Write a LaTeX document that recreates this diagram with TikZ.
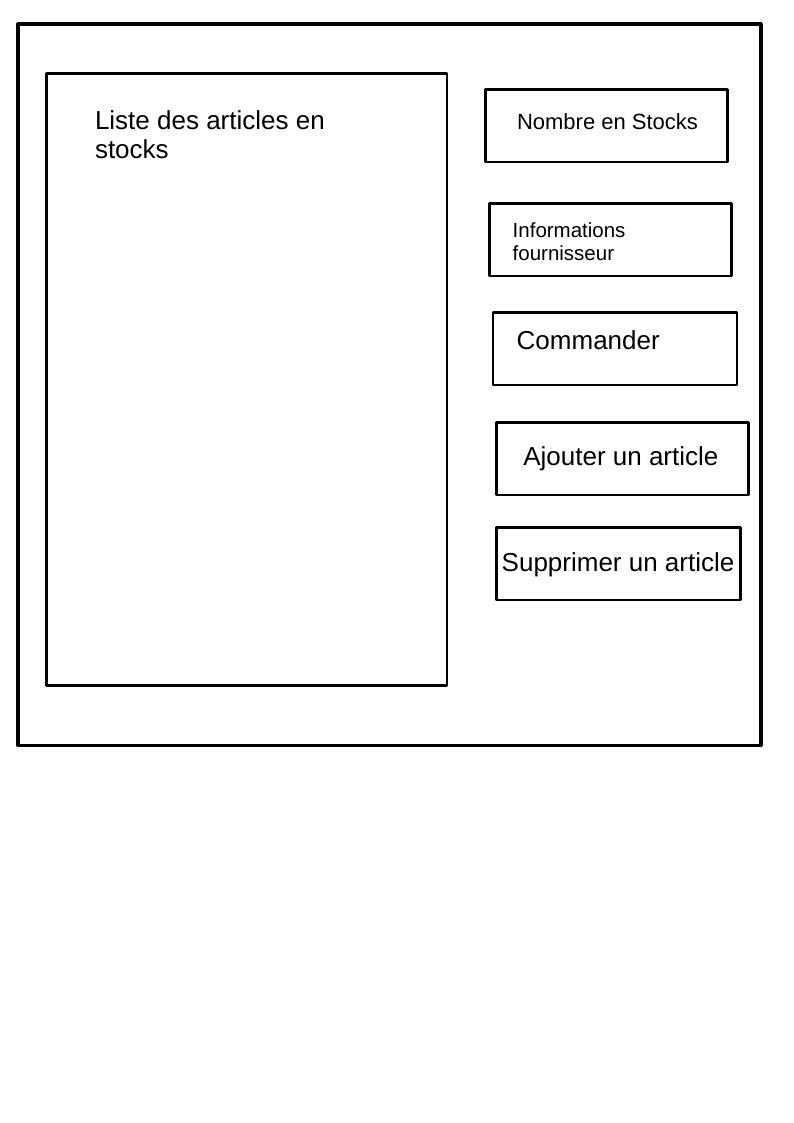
\documentclass[tikz,border=0pt]{standalone}
\usepackage{fontspec}
\setmainfont{Liberation Sans}
\begin{document}
\begin{tikzpicture}[x=1pt,y=-1pt,
  frame/.style={draw=black,line width=3.2pt,rectangle,anchor=north west,inner sep=0pt,outer sep=0pt,line join=round},
  box/.style={draw=black,line width=2.8pt,rectangle,anchor=north west,inner sep=0pt,outer sep=0pt,line join=round},
  lbl/.style={anchor=base west,inner sep=0pt,outer sep=0pt,text=black,align=left},
  big/.style={font=\fontsize{26}{29}\selectfont},
  mid/.style={font=\fontsize{22}{25}\selectfont},
  small/.style={font=\fontsize{20.5}{22.7}\selectfont}]
\useasboundingbox[fill=white] (0,0) rectangle (794,1123);
\node[frame,minimum width=743pt,minimum height=721.5pt] (window) at (18,24) {};
\node[box,minimum width=400.5pt,minimum height=612pt] (liste) at (46.5,73.5) {};
\node[box,minimum width=242pt,minimum height=72.5pt] (nombre) at (485.5,89.5) {};
\node[box,minimum width=242pt,minimum height=72.5pt] (infos) at (489.5,203.5) {};
\node[box,minimum width=244pt,minimum height=72.3pt] (commander) at (493,312.7) {};
\node[box,minimum width=251.6pt,minimum height=72.3pt] (ajouter) at (496.7,422.7) {};
\node[box,minimum width=244pt,minimum height=72.3pt] (supprimer) at (496.7,527.7) {};
\node[lbl,big] (listetxt) at (95,158.3) {Liste des articles en\\stocks};
\node[lbl,mid] (nombretxt) at (517,130) {Nombre en Stocks};
\node[lbl,small] (infostxt) at (512.7,260) {Informations\\fournisseur};
\node[lbl,big] (commandertxt) at (516.7,349) {Commander};
\node[lbl,big] (ajoutertxt) at (523.3,465.7) {Ajouter un article};
\node[lbl,big] (supprimertxt) at (501.7,571.7) {Supprimer un article};
\end{tikzpicture}
\end{document}
